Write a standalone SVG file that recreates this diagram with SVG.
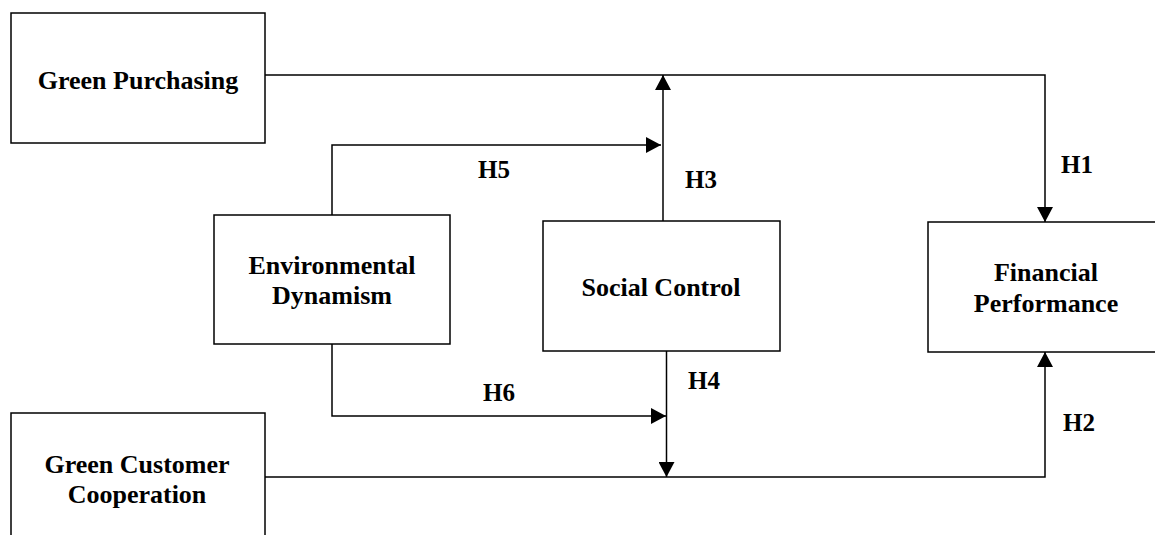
<svg xmlns="http://www.w3.org/2000/svg" width="1155" height="535" viewBox="0 0 1155 535">
<style>
.box{fill:#fff;stroke:#000;stroke-width:1.5}
.t{font-family:"Liberation Serif","Times New Roman",serif;font-weight:bold;font-size:26px;fill:#000;text-anchor:middle}
.h{font-family:"Liberation Serif","Times New Roman",serif;font-weight:bold;font-size:25px;fill:#000}
.c{fill:none;stroke:#000;stroke-width:1.5}
</style>
<defs>
<marker id="arr" markerUnits="userSpaceOnUse" markerWidth="16" markerHeight="16" refX="15" refY="8" orient="auto">
<path d="M0,0 L15,8 L0,16 z" fill="#000"/>
</marker>
</defs>
<rect width="1155" height="535" fill="#fff"/>
<g id="connectors">
<path class="c" d="M265,75 H1045 V222" marker-end="url(#arr)"/>
<path class="c" d="M265,477 H1045 V352" marker-end="url(#arr)"/>
<path class="c" d="M663,221 V75" marker-end="url(#arr)"/>
<path class="c" d="M666.5,351 V477" marker-end="url(#arr)"/>
<path class="c" d="M332,215 V145 H661" marker-end="url(#arr)"/>
<path class="c" d="M332,344 V416 H666" marker-end="url(#arr)"/>
<text class="h" x="1061" y="173">H1</text>
<text class="h" x="1063" y="431">H2</text>
<text class="h" x="685" y="188">H3</text>
<text class="h" x="688" y="389">H4</text>
<text class="h" x="478" y="178">H5</text>
<text class="h" x="483" y="401">H6</text>
</g>
<g id="green-purchasing">
<rect class="box" x="11" y="13" width="254" height="130"/>
<text class="t" x="138" y="89">Green Purchasing</text>
</g>
<g id="environmental-dynamism">
<rect class="box" x="214" y="215" width="236" height="129"/>
<text class="t" x="332" y="274">Environmental</text>
<text class="t" x="332" y="304">Dynamism</text>
</g>
<g id="social-control">
<rect class="box" x="543" y="221" width="237" height="130"/>
<text class="t" x="661" y="296">Social Control</text>
</g>
<g id="financial-performance">
<rect class="box" x="928" y="222" width="240" height="130"/>
<text class="t" x="1046" y="281">Financial</text>
<text class="t" x="1046" y="312">Performance</text>
</g>
<g id="green-customer-cooperation">
<rect class="box" x="11" y="413" width="254" height="140"/>
<text class="t" x="137" y="473">Green Customer</text>
<text class="t" x="137" y="503">Cooperation</text>
</g>
</svg>
